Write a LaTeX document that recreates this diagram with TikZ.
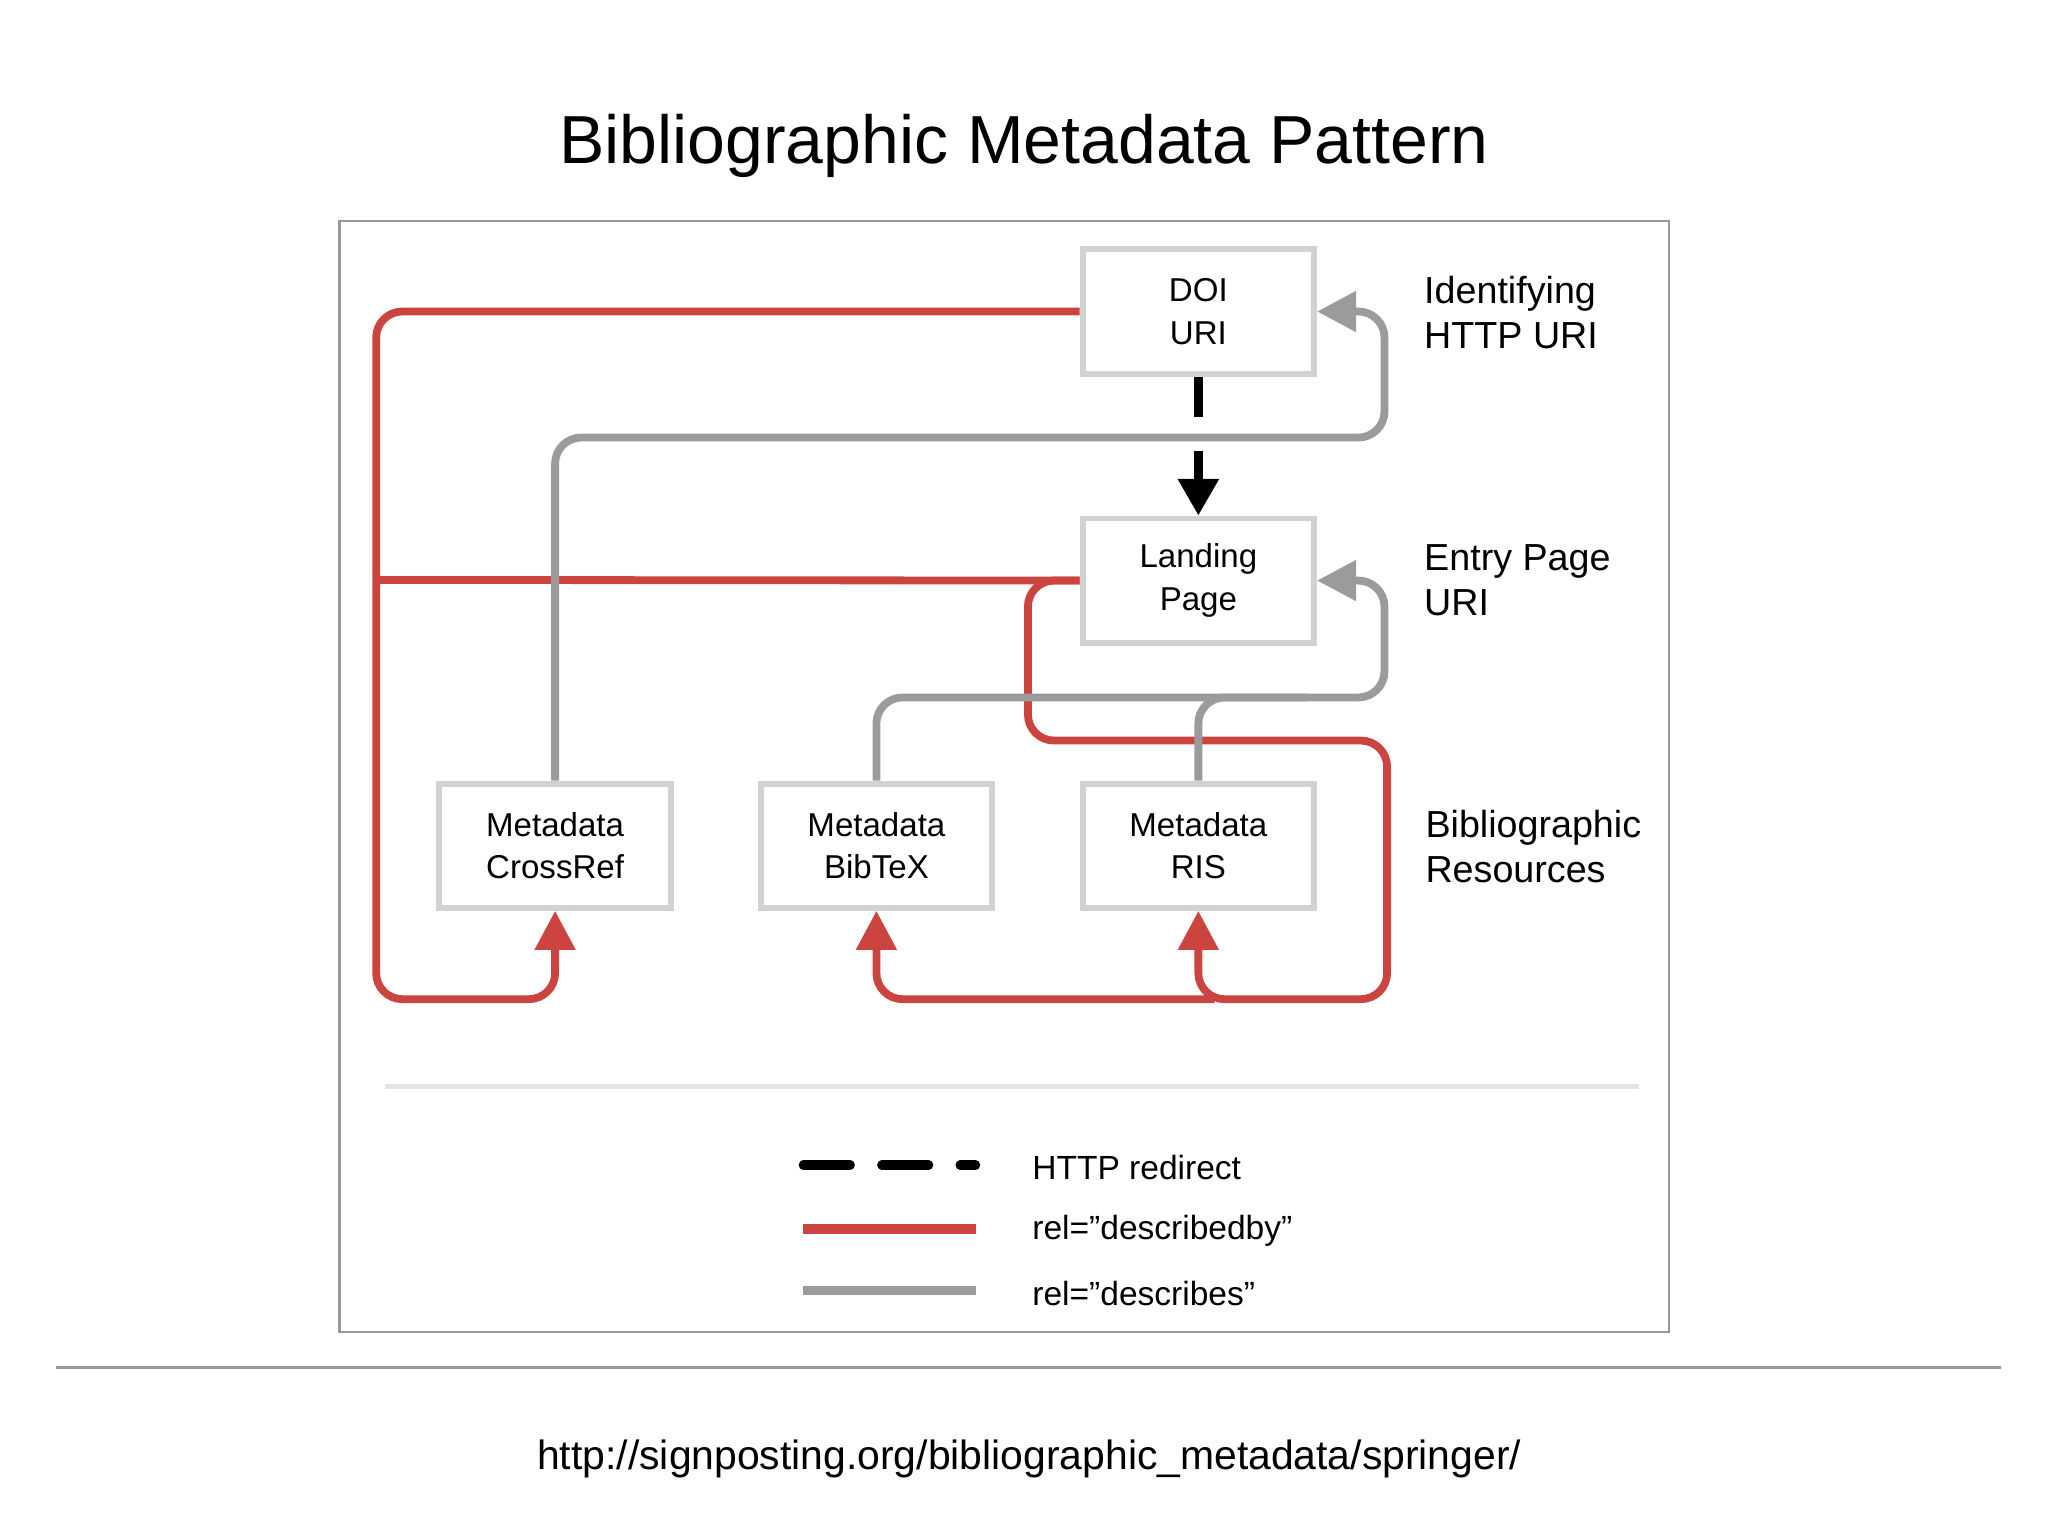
\documentclass[tikz,border=0pt]{standalone}
\usepackage{fontspec}
\setmainfont{Liberation Sans}
\usetikzlibrary{arrows.meta}
\definecolor{rd}{RGB}{204,68,64}
\definecolor{gr}{RGB}{155,155,158}
\definecolor{bx}{RGB}{210,210,210}
\newcommand{\dq}{\symbol{34}}
\begin{document}
\begin{tikzpicture}[x=0.01cm,y=-0.01cm,
 box/.style={draw=bx,line width=1.3pt,minimum width=1.77cm,minimum height=0.95cm,align=center,font=\fontsize{7.2}{9.2}\selectfont,inner sep=0},
 lab/.style={anchor=west,align=left,font=\fontsize{8.2}{9.8}\selectfont},
 rl/.style={draw=rd,line width=1.7pt,rounded corners=0.2cm},
 gl/.style={draw=gr,line width=1.7pt,rounded corners=0.2cm},
 tip/.style={-{Triangle[length=0.3cm,width=0.3cm]}},
 leg/.style={anchor=west,font=\fontsize{7.3}{9}\selectfont}]
\useasboundingbox (0,0) rectangle (1568,1176);
\node[font=\fontsize{14.8}{18}\selectfont] (title) at (784,112) {Bibliographic Metadata Pattern};
\draw[gray!80,line width=0.5pt] (260,169) rectangle (1278,1020);
\node[box] (doi) at (917.5,238.5) {DOI\\URI};
\node[box] (land) at (917.5,444.5) {Landing\\Page};
\node[box] (cr) at (425,647.5) {Metadata\\CrossRef};
\node[box] (bib) at (671,647.5) {Metadata\\BibTeX};
\node[box] (ris) at (917.5,647.5) {Metadata\\RIS};
\node[lab] (l1) at (1078,239) {Identifying\\HTTP URI};
\node[lab] (l2) at (1078,444) {Entry Page\\URI};
\node[lab] (l3) at (1079,648) {Bibliographic\\Resources};
% red
\draw[rl,tip] (doi.west) -| (288,765) -| (cr.south);
\draw[rl] (land.west) -- (288,444);
\draw[rl,tip] (land.west) -| (787,567) -| (1062,765) -| (ris.south);
\draw[rl,tip] (930,765) -| (bib.south);
% gray
\draw[gl,tip] (cr.north) |- (1060,335) |- (doi.east);
\draw[gl,tip] (bib.north) |- (1060,534) |- (land.east);
\draw[gl] (ris.north) |- (1000,534);
% black dashed
\draw[line width=1.8pt,dash pattern=on 0.31cm off 0.26cm,-{Triangle[length=0.28cm,width=0.3cm]}] (doi.south) -- (land.north);
% separator and legend
\draw[black!10,line width=1pt] (295,832) -- (1255,832);
\draw[line width=2pt,dash pattern=on 0.36cm off 0.24cm,line cap=round] (615,892) coordinate (d1) -- (747,892) coordinate (d2);
\draw[rd,line width=2pt] (615,941) coordinate (r1) -- (747,941) coordinate (r2);
\draw[gr,line width=2pt] (615,988) coordinate (g1) -- (747,988) coordinate (g2);
\node[leg] (t1) at (778,894) {HTTP redirect};
\node[leg] (t2) at (778,942) {rel=\dq describedby\dq};
\node[leg] (t3) at (778,990) {rel=\dq describes\dq};
\draw[gray!80,line width=0.5pt] (43,1047) -- (1532,1047);
\node[font=\fontsize{8.9}{11}\selectfont] (url) at (788,1117) {http://signposting.org/bibliographic\_metadata/springer/};
\end{tikzpicture}
\end{document}
